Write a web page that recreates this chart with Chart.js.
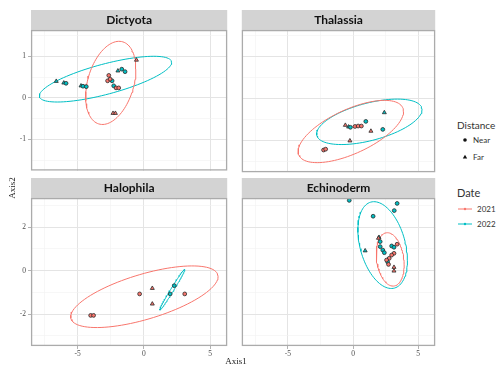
<!DOCTYPE html>
<html>
<head>
<meta charset="utf-8">
<script src="https://cdn.jsdelivr.net/npm/chart.js@4.4.0/dist/chart.umd.min.js"></script>
<style>
  body { margin: 0; background: #fff; }
  #wrap { position: relative; width: 500px; height: 371px; overflow: hidden; }
  canvas { position: absolute; }
  .txt { position: absolute; white-space: nowrap; color: #333; font-family: Lato, sans-serif; }
  .ax { position: absolute; white-space: nowrap; color: #222; font: 9px "Liberation Serif", serif; text-align: center; }
</style>
</head>
<body>
<div id="wrap">
  <canvas id="p1" width="232" height="167" style="left:0;top:10px"></canvas>
  <canvas id="p2" width="203" height="167" style="left:237px;top:10px"></canvas>
  <canvas id="p3" width="232" height="182" style="left:0;top:178px"></canvas>
  <canvas id="p4" width="203" height="182" style="left:237px;top:178px"></canvas>

  <div class="ax" style="left:186px;top:355px;width:100px;line-height:12px">Axis1</div>
  <div class="ax" style="left:-38px;top:182px;width:100px;line-height:12px;transform:rotate(-90deg)">Axis2</div>

  <div class="txt" style="left:457px;top:119px;font-size:10px;line-height:12px">Distance</div>
  <div class="txt" style="left:473px;top:135px;font-size:8px;line-height:10px">Near</div>
  <div class="txt" style="left:473px;top:152px;font-size:8px;line-height:10px">Far</div>
  <div class="txt" style="left:457px;top:186px;font-size:11px;line-height:13px">Date</div>
  <div class="txt" style="left:477px;top:204px;font-size:8px;line-height:10px">2021</div>
  <div class="txt" style="left:477px;top:219px;font-size:8px;line-height:10px">2022</div>
  <svg style="position:absolute;left:450px;top:130px" width="30" height="100">
    <circle cx="15" cy="10" r="1.8" fill="#111"/>
    <polygon points="15,24.8 12.8,28.6 17.2,28.6" fill="#111"/>
    <line x1="8" y1="79" x2="22" y2="79" stroke="#F8766D" stroke-width="1"/>
    <circle cx="15" cy="79" r="1.2" fill="#F8766D"/>
    <line x1="8" y1="94" x2="22" y2="94" stroke="#00BFC4" stroke-width="1"/>
    <circle cx="15" cy="94" r="1.2" fill="#00BFC4"/>
  </svg>
</div>
<script>
// facets and groups
var panels = ["Dictyota", "Thalassia", "Halophila", "Echinoderm"];
var years = ["2021", "2022"];
var yearColors = ["#F8766D", "#00BFC4"];

// axis breaks
var xTicks = [-5, 0, 5];
var xMinor = [-7.5, -2.5, 2.5];
var yTicksTop = [-1, 0, 1];
var yMinorTop = [-1.5, -0.5, 0.5, 1.5];
var yTicksBottom = [-2, 0, 2];
var yMinorBottom = [-3, -1, 1, 3];

// points [Axis1, Axis2]
var dictyota2021Near = [[-2.65, 0.54], [-2.74, 0.41], [-2.1, 0.24], [-1.9, 0.24], [-2.55, 0.45]];
var dictyota2021Far = [[-0.56, 0.91], [-2.33, -0.37], [-2.15, -0.37]];
var dictyota2022Near = [[-5.88, 0.35], [-4.6, 0.28], [-4.35, 0.27], [-1.67, 0.69], [-1.42, 0.63], [-2.4, 0.41], [-2.28, 0.29]];
var dictyota2022Far = [[-6.62, 0.4], [-6.05, 0.36], [-1.96, 0.65], [-4.75, 0.29]];

var thalassia2021Near = [[-2.26, -1.22], [-2.1, -1.2], [0.15, -0.66], [0.39, -0.65], [0.64, -0.65]];
var thalassia2021Far = [[-0.59, -0.63], [1.37, -0.77], [-0.24, -1.0]];
var thalassia2022Near = [[0.98, -0.54], [2.28, -0.73], [-0.2, -0.68]];
var thalassia2022Far = [[-0.34, -0.67], [2.4, -0.33]];

var halophila2021Near = [[-4.02, -2.06], [-3.8, -2.06], [-0.32, -1.07], [3.09, -1.07]];
var halophila2021Far = [[0.64, -0.81], [0.64, -1.53]];
var halophila2022Near = [[2.3, -0.69], [1.99, -1.07]];
var halophila2022Far = [];

var echinoderm2021Near = [[3.38, 1.22], [3.14, 0.8], [2.96, 0.72], [2.77, 0.57], [2.57, 0.49], [2.72, 0.29]];
var echinoderm2021Far = [[1.95, 1.5], [3.14, 0.16], [3.14, -0.01]];
var echinoderm2022Near = [[-0.29, 3.24], [3.38, 3.1], [3.16, 2.77], [1.54, 2.51], [2.08, 1.34], [2.08, 1.11], [2.28, 0.95], [2.4, 0.83], [2.96, 1.14], [3.14, 1.08], [2.65, 0.41]];
var echinoderm2022Far = [[0.93, 0.92], [1.99, 1.54]];

// ellipses [centre x, centre y, half width x, half width y, correlation]
var dictyotaEllipses = [[-2.5, 0.36, 1.9, 1.0, 0.33], [-2.9, 0.45, 5.0, 0.55, 0.73]];
var thalassiaEllipses = [[-0.17, -0.78, 4.04, 0.74, 0.64], [1.25, -0.55, 4.04, 0.54, 0.53]];
var halophilaEllipses = [[0.04, -1.2, 5.57, 1.42, 0.65], [2.15, -0.875, 0.95, 0.94, 0.99]];
var echinodermEllipses = [[2.85, 0.52, 1.07, 1.23, -0.2], [2.27, 1.18, 1.9, 2.0, -0.35]];

function ellipsePath(e) {
  var out = [];
  var k = Math.sqrt(1 - e[4] * e[4]);
  for (var i = 0; i <= 100; i++) {
    var t = (i / 100) * 2 * Math.PI;
    out.push({ x: e[0] + e[2] * Math.cos(t), y: e[1] + e[3] * (e[4] * Math.cos(t) + k * Math.sin(t)) });
  }
  return out;
}

function pointSet(pts, color, style) {
  return {
    data: pts.map(function (p) { return { x: p[0], y: p[1] }; }),
    pointStyle: style,
    pointRadius: style == "triangle" ? 2.3 : 1.9,
    backgroundColor: color,
    borderColor: "#2a2a2a",
    borderWidth: 0.8,
    showLine: false,
  };
}

function ellipseSet(e, color) {
  return {
    data: ellipsePath(e),
    showLine: true,
    pointRadius: 0,
    borderColor: color,
    borderWidth: 1,
    fill: false,
    tension: 0,
  };
}

var panelFrame = {
  id: "panelFrame",
  beforeDraw: function (chart) {
    var a = chart.chartArea, t = chart.titleBlock, c = chart.ctx;
    c.save();
    c.fillStyle = "#D3D3D3";
    c.fillRect(a.left, t.top, a.right - a.left, t.height);
    c.restore();
  },
  afterDraw: function (chart) {
    var a = chart.chartArea, c = chart.ctx;
    c.save();
    c.strokeStyle = "#ABABAB";
    c.lineWidth = 1.3;
    c.strokeRect(a.left + 0.6, a.top + 0.6, a.right - a.left - 1.2, a.bottom - a.top - 1.2);
    c.restore();
  },
};

function makeScale(min, max, major, minor, showLabels, isX, size) {
  var all = major.concat(minor);
  return {
    type: "linear",
    min: min,
    max: max,
    afterBuildTicks: function (s) {
      s.ticks = all.slice().sort(function (a, b) { return a - b; }).map(function (v) { return { value: v }; });
    },
    afterFit: function (s) {
      if (isX) s.height = size; else s.width = size;
    },
    border: { display: false },
    grid: {
      drawTicks: true,
      tickLength: 3,
      color: function (ctx) { return major.indexOf(ctx.tick.value) >= 0 ? "#E4E4E4" : "#F1F1F1"; },
      lineWidth: function (ctx) { return major.indexOf(ctx.tick.value) >= 0 ? 1 : 0.6; },
      tickColor: function (ctx) {
        return showLabels && major.indexOf(ctx.tick.value) >= 0 ? "#B3B3B3" : "rgba(0,0,0,0)";
      },
    },
    ticks: {
      display: showLabels,
      autoSkip: false,
      maxRotation: 0,
      padding: isX ? 1 : 2,
      color: "#4D4D4D",
      font: { family: "Liberation Serif", size: 7.5 },
      callback: function (v) { return major.indexOf(v) >= 0 ? String(v) : ""; },
    },
  };
}

function makePanel(id, name, sets, ellipses, left, bottom) {
  var datasets = [
    pointSet(sets[0], yearColors[0], "circle"),
    pointSet(sets[1], yearColors[0], "triangle"),
    pointSet(sets[2], yearColors[1], "circle"),
    pointSet(sets[3], yearColors[1], "triangle"),
    ellipseSet(ellipses[0], yearColors[0]),
    ellipseSet(ellipses[1], yearColors[1]),
  ];
  var yMaj = bottom ? yTicksBottom : yTicksTop;
  var yMin = bottom ? yMinorBottom : yMinorTop;
  var yRange = bottom ? [-3.47, 3.35] : [-1.747, 1.632];
  new Chart(document.getElementById(id), {
    type: "scatter",
    data: { datasets: datasets },
    options: {
      responsive: false,
      animation: false,
      devicePixelRatio: 1,
      layout: { padding: 0 },
      plugins: {
        legend: { display: false },
        tooltip: { enabled: false },
        title: {
          display: true,
          text: name,
          fullSize: false,
          color: "#111",
          padding: 0,
          font: { family: "Lato", size: 12, weight: "bold", lineHeight: "20px" },
        },
      },
      scales: {
        x: makeScale(-8.53, 6.3, xTicks, xMinor, bottom, true, bottom ? 14 : 0),
        y: makeScale(yRange[0], yRange[1], yMaj, yMin, left, false, left ? 31 : 0),
      },
    },
    plugins: [panelFrame],
  });
}

makePanel("p1", panels[0], [dictyota2021Near, dictyota2021Far, dictyota2022Near, dictyota2022Far], dictyotaEllipses, true, false);
makePanel("p2", panels[1], [thalassia2021Near, thalassia2021Far, thalassia2022Near, thalassia2022Far], thalassiaEllipses, false, false);
makePanel("p3", panels[2], [halophila2021Near, halophila2021Far, halophila2022Near, halophila2022Far], halophilaEllipses, true, true);
makePanel("p4", panels[3], [echinoderm2021Near, echinoderm2021Far, echinoderm2022Near, echinoderm2022Far], echinodermEllipses, false, true);
</script>
</body>
</html>
